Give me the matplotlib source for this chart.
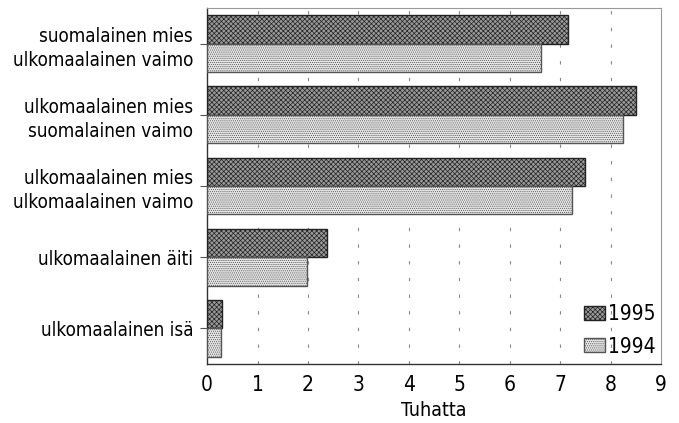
import matplotlib
matplotlib.use("Agg")
import matplotlib.pyplot as plt
import numpy as np

plt.rcParams['hatch.linewidth'] = 0.5
plt.rcParams['font.family'] = ['DejaVu Sans']
plt.rcParams['font.stretch'] = 'condensed'

categories = ["suomalainen mies\nulkomaalainen vaimo",
              "ulkomaalainen mies\nsuomalainen vaimo",
              "ulkomaalainen mies\nulkomaalainen vaimo",
              "ulkomaalainen äiti",
              "ulkomaalainen isä"]
series_names = ["1995", "1994"]
values_1995 = [7.15, 8.51, 7.49, 2.38, 0.30]
values_1994 = [6.62, 8.25, 7.23, 1.99, 0.27]
xticks = [0, 1, 2, 3, 4, 5, 6, 7, 8, 9]

fig = plt.figure(figsize=(6.79, 4.23), dpi=100)
ax = fig.add_axes([0.305, 0.1395, 0.6685, 0.8415])

y = np.arange(len(categories))
h = 0.4
b1 = ax.barh(y - h / 2, values_1995, height=h, color='#999999', edgecolor='#222222',
             linewidth=1.0, hatch='xxxxxxx', label=series_names[0], zorder=3)
b2 = ax.barh(y + h / 2, values_1994, height=h, color='#e6e6e6', edgecolor='#555555',
             linewidth=1.0, hatch='........', label=series_names[1], zorder=3)

ax.set_xlim(0, 9)
ax.set_ylim(4.5, -0.5)
ax.set_xticks(xticks)
ax.set_xticklabels([str(t) for t in xticks], fontsize=15)
ax.set_yticks(y)
ax.set_yticklabels(categories, fontsize=13.5, linespacing=1.35)
ax.tick_params(axis='y', length=5, width=0.8, color='#555555', pad=5)
ax.tick_params(axis='x', length=0, pad=8)

for t in xticks[1:-1]:
    ax.axvline(t, color='#888888', linewidth=0.8, linestyle=(0, (3, 12)), zorder=1)

ax.set_xlabel("Tuhatta", fontsize=14, labelpad=4)

for s in ['left', 'bottom']:
    ax.spines[s].set_color('#333333')
    ax.spines[s].set_linewidth(1.0)
for s in ['top', 'right']:
    ax.spines[s].set_color('#999999')
    ax.spines[s].set_linewidth(0.8)

leg = ax.legend(loc='lower right', frameon=False, fontsize=15, handlelength=1.0,
                handleheight=0.65, handletextpad=0.15, labelspacing=0.6,
                borderaxespad=0.25, borderpad=0.1)
leg.set_bbox_to_anchor((1.005, 0.0), transform=ax.transAxes)

fig.savefig("out.png", dpi=100)
